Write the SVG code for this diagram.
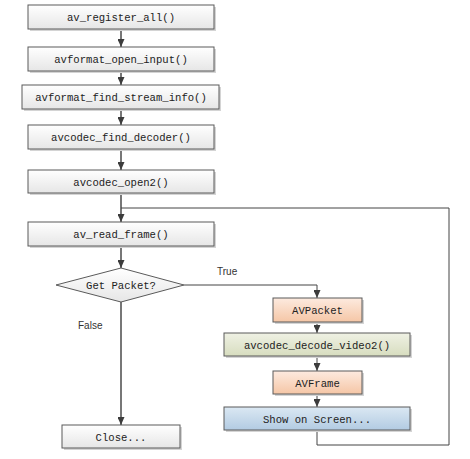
<svg xmlns="http://www.w3.org/2000/svg" width="470" height="459" viewBox="0 0 470 459">
<style>
.box{stroke:#5a5a5a;stroke-width:1}
.sh{fill:#d4d4d4}
.t{font-family:"Liberation Mono",monospace;font-size:10.6px;fill:#222;text-anchor:middle}
.lbl{font-family:"Liberation Sans",Arial,sans-serif;font-size:10px;fill:#333}
.ln{fill:none;stroke:#555;stroke-width:1.6}
.ln2{fill:none;stroke:#444;stroke-width:1}
</style>
<defs>
<linearGradient id="gGray" x1="0" y1="0" x2="0" y2="1"><stop offset="0" stop-color="#ffffff"/><stop offset="1" stop-color="#e6e6e6"/></linearGradient>
<linearGradient id="gSal" x1="0" y1="0" x2="0" y2="1"><stop offset="0" stop-color="#fdeadf"/><stop offset="1" stop-color="#f5c6a6"/></linearGradient>
<linearGradient id="gGrn" x1="0" y1="0" x2="0" y2="1"><stop offset="0" stop-color="#eff1e4"/><stop offset="1" stop-color="#d7ddbf"/></linearGradient>
<linearGradient id="gBlu" x1="0" y1="0" x2="0" y2="1"><stop offset="0" stop-color="#dbe8f3"/><stop offset="1" stop-color="#b2cbe2"/></linearGradient>
<marker id="ah" viewBox="0 0 8 7" refX="8" refY="3.5" markerWidth="8" markerHeight="7" markerUnits="userSpaceOnUse" orient="auto"><path d="M0,0 L8,3.5 L0,7 Z" fill="#3c3c3c"/></marker>
</defs>
<g id="connectors">
<line class="ln" x1="121" y1="29" x2="121" y2="47" marker-end="url(#ah)"/>
<line class="ln" x1="121" y1="71" x2="121" y2="85" marker-end="url(#ah)"/>
<line class="ln" x1="121" y1="109" x2="121" y2="125" marker-end="url(#ah)"/>
<line class="ln" x1="121" y1="149" x2="121" y2="170" marker-end="url(#ah)"/>
<line class="ln" x1="121" y1="193" x2="121" y2="222" marker-end="url(#ah)"/>
<line class="ln" x1="121" y1="246" x2="121" y2="268" marker-end="url(#ah)"/>
<line class="ln" x1="121" y1="302" x2="121" y2="425" marker-end="url(#ah)"/>
<polyline class="ln2" points="184,285 317,285 317,298" marker-end="url(#ah)"/>
<line class="ln2" x1="317" y1="322" x2="317" y2="333" marker-end="url(#ah)"/>
<line class="ln2" x1="317" y1="356" x2="317" y2="371" marker-end="url(#ah)"/>
<line class="ln2" x1="317" y1="394" x2="317" y2="407" marker-end="url(#ah)"/>
<polyline class="ln2" points="317,430 317,445 449,445 449,208 121,208"/>
<text class="lbl" x="217" y="275">True</text>
<text class="lbl" x="78" y="329">False</text>
</g>
<g id="n1"><rect class="sh" x="30" y="7" width="186" height="24"/><rect class="box" x="28" y="5" width="186" height="24" fill="url(#gGray)"/><text class="t" x="121" y="21">av_register_all()</text></g>
<g id="n2"><rect class="sh" x="30" y="49" width="186" height="24"/><rect class="box" x="28" y="47" width="186" height="24" fill="url(#gGray)"/><text class="t" x="121" y="63">avformat_open_input()</text></g>
<g id="n3"><rect class="sh" x="24" y="87" width="197" height="24"/><rect class="box" x="22" y="85" width="197" height="24" fill="url(#gGray)"/><text class="t" x="121" y="101">avformat_find_stream_info()</text></g>
<g id="n4"><rect class="sh" x="30" y="127" width="186" height="24"/><rect class="box" x="28" y="125" width="186" height="24" fill="url(#gGray)"/><text class="t" x="121" y="141">avcodec_find_decoder()</text></g>
<g id="n5"><rect class="sh" x="30" y="172" width="186" height="23"/><rect class="box" x="28" y="170" width="186" height="23" fill="url(#gGray)"/><text class="t" x="121" y="185.5">avcodec_open2()</text></g>
<g id="n6"><rect class="sh" x="30" y="224" width="186" height="24"/><rect class="box" x="28" y="222" width="186" height="24" fill="url(#gGray)"/><text class="t" x="121" y="238">av_read_frame()</text></g>
<g id="n7"><polygon class="box" points="121,268 184,285 121,302 56,285" fill="url(#gGray)"/><text class="t" x="121" y="289">Get Packet?</text></g>
<g id="n8"><rect class="sh" x="275" y="300" width="89" height="24"/><rect class="box" x="273" y="298" width="89" height="24" fill="url(#gSal)"/><text class="t" x="317.5" y="314">AVPacket</text></g>
<g id="n9"><rect class="sh" x="226" y="335" width="186" height="23"/><rect class="box" x="224" y="333" width="186" height="23" fill="url(#gGrn)"/><text class="t" x="317" y="348.5">avcodec_decode_video2()</text></g>
<g id="n10"><rect class="sh" x="275" y="373" width="89" height="23"/><rect class="box" x="273" y="371" width="89" height="23" fill="url(#gSal)"/><text class="t" x="317.5" y="386.5">AVFrame</text></g>
<g id="n11"><rect class="sh" x="226" y="409" width="186" height="23"/><rect class="box" x="224" y="407" width="186" height="23" fill="url(#gBlu)"/><text class="t" x="317" y="422.5">Show on Screen...</text></g>
<g id="n12"><rect class="sh" x="64" y="427" width="118" height="23"/><rect class="box" x="62" y="425" width="118" height="23" fill="url(#gGray)"/><text class="t" x="121" y="440.5">Close...</text></g>
</svg>
